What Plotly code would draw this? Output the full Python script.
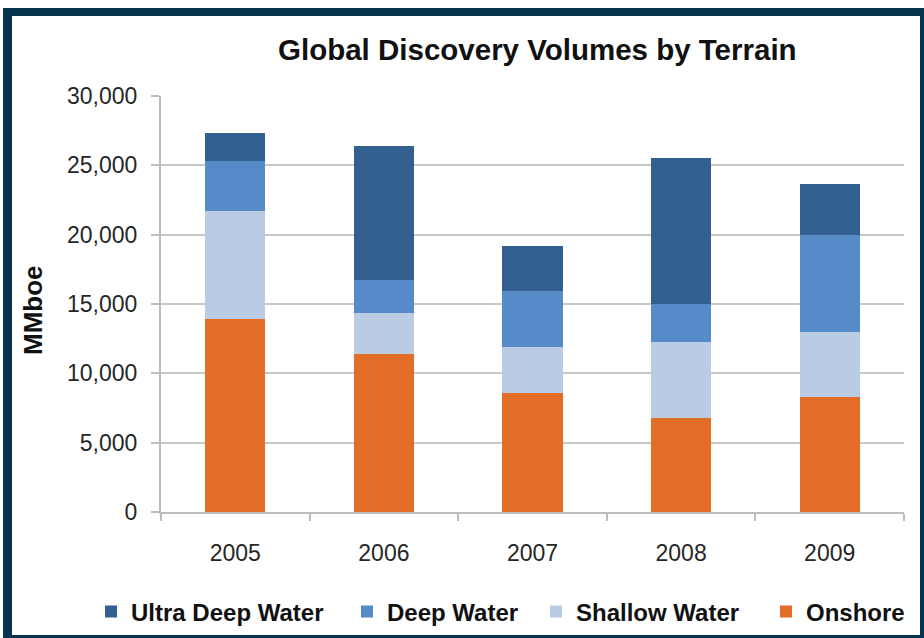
import plotly.graph_objects as go

# Discovery volumes (MMboe) by year and terrain
years = ["2005", "2006", "2007", "2008", "2009"]
onshore = [13900, 11380, 8550, 6770, 8310]
shallow_water = [7790, 2940, 3360, 5460, 4640]
deep_water = [3620, 2390, 4010, 2760, 7060]
ultra_deep_water = [2020, 9660, 3270, 10540, 3670]

series = [
    ("Onshore", onshore, "#E36C26", 93),
    ("Shallow Water", shallow_water, "#B9CCE4", 185),
    ("Deep Water", deep_water, "#558BC9", 144),
    ("Ultra Deep Water", ultra_deep_water, "#335F91", 211),
]

W, H = 924, 638
L, R, T, B = 161, 20, 96, 126
PW, PH = W - L - R, H - T - B

FONT = "Liberation Sans, Arial, sans-serif"
NAVY = "#06344F"


def px(x):
    return (x - L) / PW


def py(y):
    return (H - B - y) / PH


fig = go.Figure()
for name, vals, color, lw in series:
    fig.add_trace(go.Bar(
        name=name, x=years, y=vals,
        marker=dict(color=color, line=dict(width=0)),
        legendwidth=lw,
    ))

fig.update_layout(
    width=W, height=H,
    margin=dict(l=L, r=R, t=T, b=B, pad=0, autoexpand=False),
    barmode="stack",
    bargap=0.595,
    paper_bgcolor="white",
    plot_bgcolor="white",
    font=dict(family=FONT, color="#262626"),
    showlegend=True,
    legend=dict(
        orientation="h", traceorder="reversed",
        x=px(91), xanchor="left", y=py(612), yanchor="middle",
        font=dict(size=24, color="#111111", family=FONT, weight="bold"),
        bgcolor="rgba(0,0,0,0)", borderwidth=0,
    ),
    xaxis=dict(
        type="category",
        showline=True, linecolor="#BDBDBD", linewidth=2,
        ticks="outside", tickson="boundaries", ticklen=7, tickwidth=1.5,
        tickcolor="#BDBDBD",
        tickfont=dict(size=23, color="#262626"),
        ticklabelstandoff=19,
        showgrid=False,
    ),
    yaxis=dict(
        range=[0, 30000], dtick=5000, tickformat=",d",
        showline=True, linecolor="#BDBDBD", linewidth=2,
        ticks="outside", ticklen=8, tickwidth=2, tickcolor="#BDBDBD",
        showgrid=True, gridcolor="#C8C8C8", gridwidth=2,
        zeroline=False,
        tickfont=dict(size=23, color="#262626"),
        ticklabelstandoff=9,
    ),
    shapes=[
        dict(type="rect", xref="paper", yref="paper", layer="below",
             x0=px(3), x1=px(W), y0=py(8), y1=py(H),
             fillcolor=NAVY, line=dict(width=0)),
        dict(type="rect", xref="paper", yref="paper", layer="below",
             x0=px(12), x1=px(920), y0=py(16), y1=py(635),
             fillcolor="white", line=dict(width=0)),
    ],
    annotations=[
        dict(text="<b>Global Discovery Volumes by Terrain</b>",
             xref="paper", yref="paper", x=px(537), y=py(49),
             xanchor="center", yanchor="middle", showarrow=False,
             font=dict(size=29.5, color="#111111", family=FONT)),
        dict(text="<b>MMboe</b>", textangle=-90,
             xref="paper", yref="paper", x=px(33), y=py(310),
             xanchor="center", yanchor="middle", showarrow=False,
             font=dict(size=26, color="#111111", family=FONT)),
    ],
)

fig.write_html("out.html")
